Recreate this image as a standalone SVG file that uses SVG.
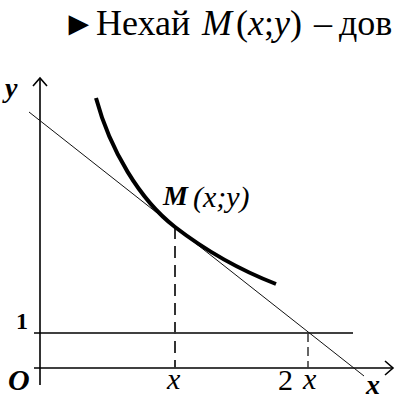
<svg xmlns="http://www.w3.org/2000/svg" width="395" height="400" viewBox="0 0 395 400">
<style>
.ax{stroke:#000;stroke-width:1.6;fill:none}
.thin{stroke:#111;stroke-width:1;fill:none}
.curve{stroke:#000;stroke-width:4;fill:none;stroke-linecap:butt}
.dash{stroke:#333;stroke-width:2;stroke-dasharray:12 7;fill:none}
.dash2{stroke:#333;stroke-width:1.5;stroke-dasharray:9 5;fill:none}
text{font-family:'Liberation Serif','Times New Roman',serif;fill:#000}
.bi{font-weight:bold;font-style:italic}
.it{font-style:italic}
</style>
<rect width="395" height="400" fill="#fff"/>
<g id="header">
<text font-size="36" y="35"><tspan x="62" font-size="34">►</tspan><tspan x="96" font-size="36">Нехай</tspan><tspan x="202" font-style="italic">M</tspan><tspan x="236">(</tspan><tspan font-style="italic">x</tspan><tspan>;</tspan><tspan font-style="italic">y</tspan><tspan>)</tspan><tspan x="314">–</tspan><tspan x="339">дов</tspan></text>
</g>
<g id="axes">
<line class="ax" x1="40" y1="78" x2="40" y2="385"/>
<polyline class="ax" points="33,86 40,78 47,86"/>
<line class="ax" x1="34" y1="368" x2="392" y2="368"/>
<polyline class="ax" points="385,361 393,368 385,375"/>
<line class="ax" x1="34" y1="333" x2="353" y2="333"/>
</g>
<g id="connectors">
<line class="thin" x1="29" y1="112" x2="364" y2="376"/>
<line class="dash" x1="175" y1="227" x2="175" y2="368"/>
<line class="dash2" x1="308" y1="333" x2="308" y2="368"/>
</g>
<g id="curve">
<path class="curve" d="M96,98 C110,150 140,200 175,227 C210,254 245,272 276,284"/>
</g>
<g id="labels">
<text class="bi" font-size="28" x="5" y="97">y</text>
<text font-weight="bold" font-size="24" x="16" y="329">1</text>
<text class="bi" font-size="30" x="8" y="390">O</text>
<text class="bi" font-size="28" x="163" y="205">M</text>
<text class="it" font-size="30" x="193" y="207">(x;y)</text>
<text class="it" font-size="30" x="167" y="389">x</text>
<text font-size="30" x="278" y="390">2</text>
<text class="it" font-size="30" x="303" y="389">x</text>
<text class="bi" font-size="28" x="366" y="394">x</text>
</g>
</svg>
